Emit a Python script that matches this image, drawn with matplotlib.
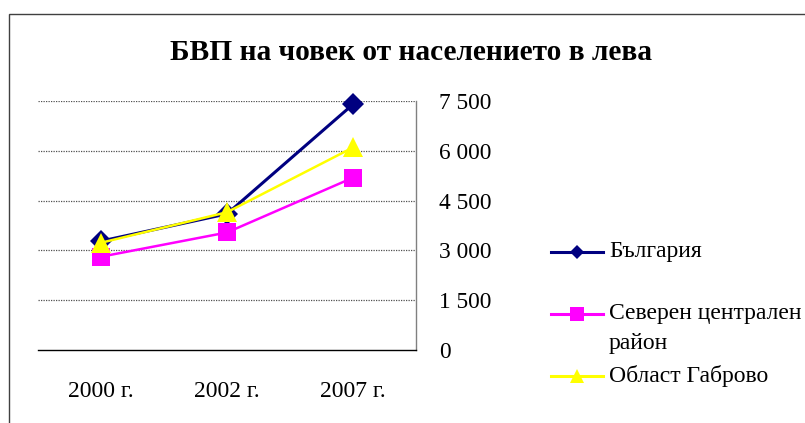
import matplotlib
matplotlib.use("Agg")
import matplotlib.pyplot as plt
from matplotlib.lines import Line2D
from matplotlib.patches import Rectangle
from matplotlib.ticker import FuncFormatter

plt.rcParams["font.family"] = ["Liberation Serif", "DejaVu Serif"]

# Data
years = ["2000 г.", "2002 г.", "2007 г."]
bulgaria = [3280, 4100, 7400]
north_central = [2810, 3540, 5190]
gabrovo = [3230, 4150, 6100]
series_names = ["България", "Северен централен\nрайон", "Област Габрово"]
y_ticks = [0, 1500, 3000, 4500, 6000, 7500]

W, H = 805, 423
fig = plt.figure(figsize=(W / 100, H / 100), dpi=100)

# axes box in pixels: x 38..416, y 101..350
ax = fig.add_axes([38 / W, 1 - 350 / H, (416 - 38) / W, (350 - 101) / H])

x = list(range(len(years)))
styles = [
    dict(color="#000080", marker="D", ms=11, lw=2.2),
    dict(color="#FF00FF", marker="s", ms=13, lw=1.8),
    dict(color="#FFFF00", marker="^", ms=14, lw=1.8),
]
for vals, st in zip([bulgaria, north_central, gabrovo], styles):
    ax.plot(x, vals, color=st["color"], marker=st["marker"], markersize=st["ms"],
            linewidth=st["lw"], markeredgewidth=0, clip_on=False, zorder=3)

ax.set_xlim(-0.5, 2.5)
ax.set_ylim(0, 7500)
ax.set_xticks(x)
ax.set_xticklabels(years)
ax.set_yticks(y_ticks)
ax.yaxis.set_major_formatter(FuncFormatter(lambda v, p: f"{int(v):,}".replace(",", " ")))
ax.yaxis.tick_right()
ax.tick_params(axis="y", length=0, pad=16.5, labelsize=16.8)
ax.tick_params(axis="x", length=0, pad=22, labelsize=17)
for lbl in ax.get_yticklabels():
    lbl.set_horizontalalignment("left")

for yv in y_ticks[1:]:
    ax.axhline(yv, color="#505050", lw=0.9, linestyle=(0, (1, 1)), zorder=1)

ax.spines["top"].set_visible(False)
ax.spines["left"].set_visible(False)
ax.spines["right"].set_color("#808080")
ax.spines["right"].set_linewidth(1.0)
ax.spines["bottom"].set_color("black")
ax.spines["bottom"].set_linewidth(1.0)

fig.text(411 / W, 1 - 53 / H, "БВП на човек от населението в лева",
         ha="center", va="center", fontsize=21.2, fontweight="bold")

# legend drawn by hand (handle aligned to first line of the label)
leg_y = [252, 314, 376]
leg_ms = [7, 9.5, 10]
for name, st, yy, ms in zip(series_names, styles, leg_y, leg_ms):
    fy = 1 - yy / H
    fig.add_artist(Line2D([551 / W, 603 / W], [fy, fy], color=st["color"], lw=2.2,
                          transform=fig.transFigure))
    fig.add_artist(Line2D([577 / W], [fy], color=st["color"], marker=st["marker"],
                          markersize=ms, markeredgewidth=0, transform=fig.transFigure))
    for k, line in enumerate(name.split("\n")):
        fig.text(609 / W, 1 - (yy + 29 * k) / H, line, ha="left", va="center", fontsize=17)

# outer chart frame
fig.add_artist(Rectangle((9 / W, -0.05), 1.0, 1 - 14 / H + 0.05, transform=fig.transFigure,
                         fill=False, edgecolor="#404040", lw=1.0, clip_on=False))

fig.savefig("out.png", dpi=100)
